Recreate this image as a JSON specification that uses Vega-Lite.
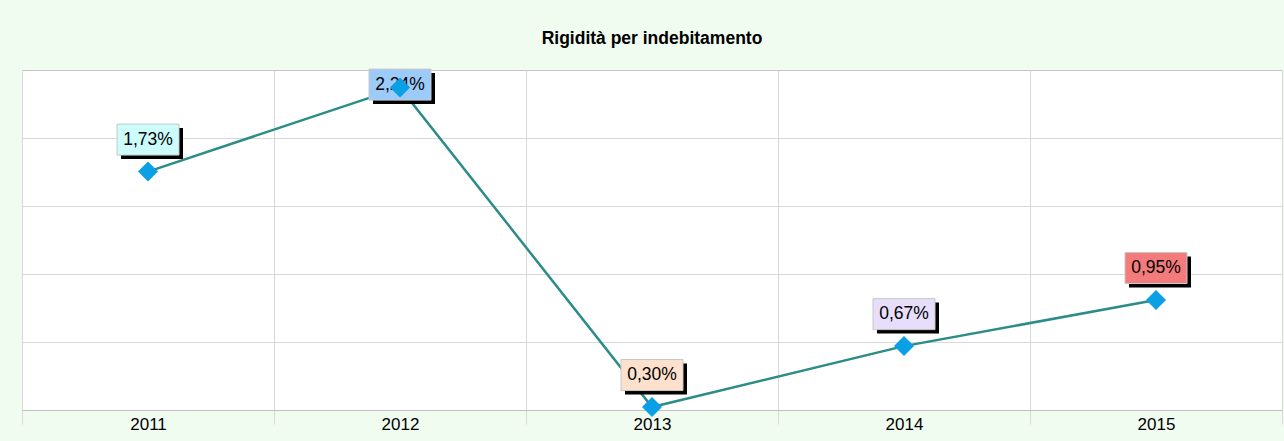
{
  "$schema": "https://vega.github.io/schema/vega-lite/v6.json",
  "width": 1260,
  "height": 340,
  "autosize": {"type": "none"},
  "padding": {"left": 22, "top": 70, "right": 2, "bottom": 31},
  "background": "#f1fcf0",
  "config": {
    "view": {"fill": "white", "stroke": "#c4c4c4", "strokeWidth": 1},
    "font": "Liberation Sans"
  },
  "title": {
    "text": "Rigidità per indebitamento",
    "fontSize": 17.5,
    "fontWeight": "bold",
    "color": "black",
    "font": "Liberation Sans",
    "anchor": "middle",
    "offset": 20
  },
  "data": {
    "values": [
      {"year": "2011", "value": 1.73, "label": "1,73%"},
      {"year": "2012", "value": 2.24, "label": "2,24%"},
      {"year": "2013", "value": 0.30, "label": "0,30%"},
      {"year": "2014", "value": 0.67, "label": "0,67%"},
      {"year": "2015", "value": 0.95, "label": "0,95%"}
    ]
  },
  "encoding": {
    "x": {
      "field": "year",
      "type": "ordinal",
      "scale": {"type": "band", "paddingInner": 0, "paddingOuter": 0},
      "axis": {
        "title": null,
        "labelAngle": 0,
        "tickBand": "extent",
        "grid": true,
        "gridColor": "#d8d8d8",
        "ticks": true,
        "tickColor": "#d8d8d8",
        "tickSize": 14,
        "domainColor": "#c0c0c0",
        "labelFontSize": 17,
        "labelColor": "black",
        "labelFont": "Liberation Sans",
        "labelPadding": -8
      }
    },
    "y": {
      "field": "value",
      "type": "quantitative",
      "scale": {"domain": [0.282, 2.347], "nice": false, "zero": false},
      "axis": {
        "title": null,
        "values": [0.695, 1.108, 1.521, 1.934],
        "labels": false,
        "ticks": false,
        "domain": false,
        "grid": true,
        "gridColor": "#d8d8d8"
      }
    }
  },
  "layer": [
    {
      "mark": {"type": "line", "color": "#2b8c88", "strokeWidth": 2.5}
    },
    {
      "mark": {
        "type": "point",
        "shape": "M-1,-0.5H1V0.5H-1Z",
        "size": 3844,
        "filled": true,
        "color": "black",
        "opacity": 1,
        "xOffset": 4,
        "yOffset": {"expr": "datum.year === '2012' ? 1 : -28"}
      }
    },
    {
      "mark": {
        "type": "point",
        "shape": "M-1,-0.5H1V0.5H-1Z",
        "size": 3844,
        "filled": true,
        "opacity": 1,
        "stroke": "#c8c8c8",
        "strokeWidth": 1,
        "yOffset": {"expr": "datum.year === '2012' ? -3 : -32"}
      },
      "encoding": {
        "fill": {
          "field": "year",
          "type": "nominal",
          "scale": {
            "domain": ["2011", "2012", "2013", "2014", "2015"],
            "range": ["#ccfdfc", "#9dcbf9", "#fde1cc", "#e6defa", "#f47b7b"]
          },
          "legend": null
        }
      }
    },
    {
      "mark": {
        "type": "text",
        "fontSize": 17.5,
        "font": "Liberation Sans",
        "color": "black",
        "align": "center",
        "baseline": "middle",
        "yOffset": {"expr": "datum.year === '2012' ? -3 : -32"}
      },
      "encoding": {"text": {"field": "label"}}
    },
    {
      "mark": {
        "type": "point",
        "shape": "diamond",
        "size": 400,
        "filled": true,
        "opacity": 1,
        "color": "#0b9fe6"
      }
    }
  ]
}
